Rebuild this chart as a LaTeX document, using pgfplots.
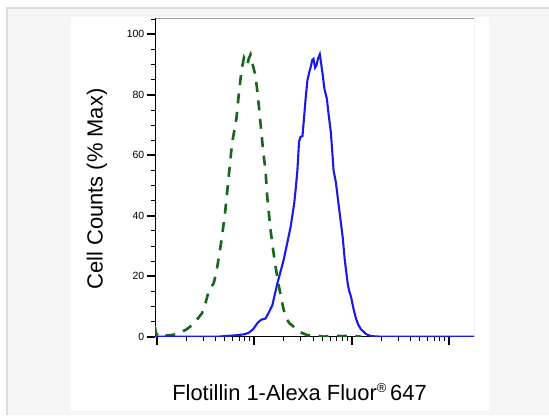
\documentclass[border=0pt]{standalone}
\usepackage{pgfplots}
\pgfplotsset{compat=1.18}
\usepackage{fontspec}
\setmainfont{Liberation Sans}
\definecolor{bggray}{HTML}{F5F5F5}
\definecolor{linegray}{HTML}{DCDCDC}
\definecolor{framegray}{HTML}{9A9A9A}
\definecolor{isogreen}{RGB}{22,102,30}
\definecolor{flblue}{RGB}{25,25,235}
\begin{document}
\begin{tikzpicture}[x=1bp,y=1bp]
\useasboundingbox (0,0) rectangle (549,415);
\fill[white] (0,0) rectangle (549,415);
\fill[bggray] (7,0) rectangle (549,407);
\draw[linegray, line width=1.2bp] (7,0) -- (7,407) -- (549,407);
\fill[white] (71,4) rectangle (489,398);
\begin{axis}[
  at={(155bp,78.3bp)}, anchor=south west,
  width=319bp, height=318.4bp, scale only axis,
  xmin=-0.017, xmax=3.254, ymin=0, ymax=105.3,
  axis line style={draw=none},
  tick align=outside, tick pos=left,
  xtick={0,1,2,3}, xticklabels={,,,},
  minor xtick={0.301,0.477,0.602,0.699,0.778,0.845,0.903,0.954,
               1.301,1.477,1.602,1.699,1.778,1.845,1.903,1.954,
               2.301,2.477,2.602,2.699,2.778,2.845,2.903,2.954},
  ytick={0,20,40,60,80,100},
  minor ytick={5,10,15,25,30,35,45,50,55,65,70,75,85,90,95,105},
  major tick length=8.5bp, minor tick length=4.5bp,
  major tick style={black, line width=1.8bp},
  minor tick style={black, line width=0.8bp},
  /pgf/number format/assume math mode=true,
  yticklabel style={font=\fontsize{10.5}{10.5}\selectfont, inner sep=2bp},
  clip=true,
]
\draw[framegray, line width=0.9bp] (rel axis cs:0,1) -- (rel axis cs:1,1) -- (rel axis cs:1,0);
\draw[black, line width=1.2bp] (rel axis cs:1,0) -- (rel axis cs:0,0) -- (rel axis cs:0,1);
\addplot[isogreen, line width=2.6bp, dash pattern=on 10bp off 8.5bp] coordinates {
(-0.02,3.5) (-0.005,1.0) (0.02,0.3) (0.06,1.0) (0.1,0.4) (0.137,0.5) (0.2,0.8)
(0.258,1.6) (0.31,2.5) (0.361,3.8) (0.41,5.5) (0.464,7.7) (0.50,11) (0.532,14.9)
(0.56,16.5) (0.584,17.6) (0.61,21) (0.635,25.8) (0.670,33.0) (0.704,41.8)
(0.738,52.8) (0.773,63.9) (0.818,72.2) (0.841,79.8) (0.87,88) (0.895,92.3)
(0.915,91.0) (0.93,90.0) (0.945,92) (0.962,93.3) (0.985,90) (1.013,86.4)
(1.037,79.8) (1.065,70.6) (1.09,62) (1.116,55.0) (1.134,46.2) (1.168,35.2)
(1.195,28.5) (1.220,23.1) (1.245,18) (1.268,14.3) (1.295,10) (1.320,6.5)
(1.36,4.5) (1.408,3.2) (1.47,1.5) (1.546,0.5) (1.65,0.3) (1.718,0)
(1.8,0.4) (1.9,0.2) (2.0,0.3) (2.1,0)
};
\addplot[flblue, line width=2.1bp] coordinates {
(-0.02,0) (0.3,0) (0.619,0) (0.825,0.5) (0.90,0.8) (0.944,1.3) (0.99,2.5)
(1.031,4.4) (1.07,5.6) (1.116,6.0) (1.15,8) (1.186,10.4) (1.237,17.6)
(1.27,21.5) (1.305,25.8) (1.374,36.4) (1.41,44) (1.426,49) (1.443,55.0)
(1.460,64.5) (1.475,66.1) (1.495,66.3) (1.51,72) (1.529,79.3) (1.546,84.8)
(1.565,87.5) (1.580,89.2) (1.595,91.5) (1.608,91.9) (1.625,89.0) (1.639,89.8)
(1.655,92) (1.673,93.4) (1.688,90) (1.701,87.0) (1.72,82) (1.745,78.7)
(1.765,73) (1.787,67.3) (1.814,55.0) (1.838,51) (1.856,46.2) (1.88,40)
(1.907,33.0) (1.93,25) (1.959,17.6) (1.975,15) (1.993,13.2) (2.02,9)
(2.044,6.0) (2.07,3.8) (2.096,2.4) (2.15,0.8) (2.199,0.2) (2.3,0) (3.3,0)
};
\end{axis}
\node[rotate=90, anchor=base, font=\fontsize{22}{24}\selectfont] at (102.5,226) {Cell Counts (\% Max)};
\node[anchor=base, font=\fontsize{22}{24}\selectfont] at (299.5,15) {Flotillin 1-Alexa Fluor\raisebox{0.33em}{\fontsize{13}{13}\selectfont ®}\,647};
\end{tikzpicture}
\end{document}
